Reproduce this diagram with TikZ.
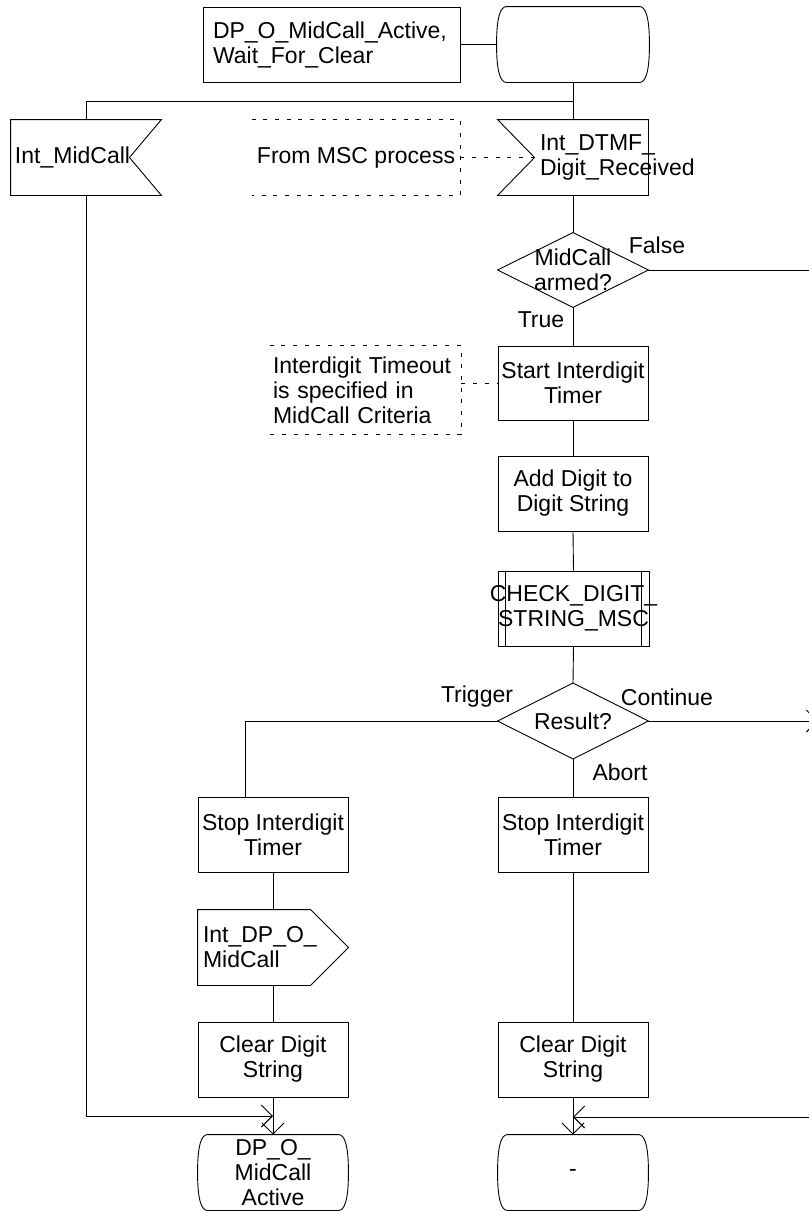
\documentclass[tikz,border=0pt]{standalone}
\usepackage{fontspec}
\setmainfont{Liberation Sans}
\usetikzlibrary{arrows.meta}

% outlines of the SDL symbols, drawn round a plain node
\newcommand{\sdlstate}[1]{%
  \draw ([xshift=10pt]#1.north west) -- ([xshift=-10pt]#1.north east)
    .. controls ([xshift=-4pt]#1.north east) and ([yshift=28pt]#1.east) .. (#1.east)
    .. controls ([yshift=-28pt]#1.east) and ([xshift=-4pt]#1.south east) .. ([xshift=-10pt]#1.south east)
    -- ([xshift=10pt]#1.south west)
    .. controls ([xshift=4pt]#1.south west) and ([yshift=-28pt]#1.west) .. (#1.west)
    .. controls ([yshift=28pt]#1.west) and ([xshift=4pt]#1.north west) .. cycle;}
\newcommand{\sdlinputright}[1]{%
  \draw (#1.north west) -- (#1.north east) -- ([xshift=-32pt]#1.east)
    -- (#1.south east) -- (#1.south west) -- cycle;}
\newcommand{\sdlinputleft}[1]{%
  \draw (#1.north west) -- ([xshift=37pt]#1.west) -- (#1.south west)
    -- (#1.south east) -- (#1.north east) -- cycle;}
\newcommand{\sdloutput}[1]{%
  \draw (#1.north west) -- ([xshift=-38pt]#1.north east) -- (#1.east)
    -- ([xshift=-38pt]#1.south east) -- (#1.south west) -- cycle;}
\newcommand{\sdldecision}[1]{%
  \draw (#1.north) -- (#1.east) -- (#1.south) -- (#1.west) -- cycle;}
\newcommand{\sdlcomment}[1]{%
  \draw[commentline] (#1.north west) -- (#1.north east) -- (#1.south east) -- (#1.south west);}
\newcommand{\sdlprocedure}[1]{%
  \draw ([xshift=8pt]#1.north west) -- ([xshift=8pt]#1.south west);
  \draw ([xshift=-8pt]#1.north east) -- ([xshift=-8pt]#1.south east);}

\begin{document}
\begin{tikzpicture}[
    x=1pt,y=-1pt,
    line width=0.9pt,
    every node/.style={font=\fontsize{23}{25}\selectfont,inner sep=0pt},
    sdlshape/.style={minimum width=150pt,minimum height=75pt,align=center},
    sdlbox/.style={sdlshape,draw},
    sdlleft/.style={minimum height=75pt,text width=140pt,inner xsep=5pt,align=left},
    sdlarrow/.style={-{Straight Barb[length=11pt,width=22pt]}},
    commentline/.style={dash pattern=on 4pt off 7.7pt}
    ]
    \useasboundingbox (0,0) rectangle (809,1211);
    \clip (0,0) rectangle (809,1211);

    % state header
    \node[draw,minimum height=75pt,text width=237pt,inner xsep=10pt,align=left] (wait) at (331.5,44.5)
      {DP\_O\_MidCall\_Active,\\Wait\_For\_Clear};
    \node[sdlshape,minimum width=152pt] (waitst) at (573,44.5) {};
    \sdlstate{waitst}
    \coordinate (fork) at (573,101);

    % inputs
    \node[sdlleft,text width=142pt,inner xsep=4pt] (intmid) at (86,157.5) {Int\_MidCall};
    \sdlinputright{intmid}
    \node[sdlshape] (dtmf) at (573,157.5) {};
    \sdlinputleft{dtmf}
    \node[anchor=west,align=left] (dtmftext) at ([xshift=42pt]dtmf.west) {Int\_DTMF\_\\Digit\_Received};
    \node[minimum width=208pt,minimum height=75pt] (msc) at (356,157.5) {From MSC process};
    \sdlcomment{msc}

    % right branch
    \node[sdlshape,minimum height=74pt] (armed) at (573,270) {MidCall\\armed?};
    \sdldecision{armed}
    \coordinate (falseend) at (809,270);
    \node[sdlbox,minimum height=74pt] (starttimer) at (573,383) {Start Interdigit\\Timer};
    \node[minimum height=88pt,text width=185pt,inner xsep=3pt,align=left] (timeoutnote) at (365.5,390)
      {Interdigit Timeout\\is specified in\\MidCall Criteria};
    \sdlcomment{timeoutnote}
    \node[sdlbox] (adddigit) at (573,493.5) {Add Digit to\\Digit String};
    \node[sdlbox,minimum width=151pt] (check) at (573.5,608.5)
      {\makebox[0pt]{CHECK\_DIGIT\_}\\\makebox[0pt]{STRING\_MSC}};
    \sdlprocedure{check}
    \node[sdlshape] (result) at (573,721) {Result?};
    \sdldecision{result}
    \coordinate (contend) at (818,721);
    \coordinate (trigdown) at (245,797);

    % trigger / abort columns
    \node[sdlbox] (stopL) at (273,834.5) {Stop Interdigit\\Timer};
    \node[sdlbox] (stopR) at (573,834.5) {Stop Interdigit\\Timer};
    \node[sdlleft] (outsig) at (273,947.5) {Int\_DP\_O\_\\MidCall};
    \sdloutput{outsig}
    \node[sdlbox] (clearL) at (273,1059.5) {Clear Digit\\String};
    \node[sdlbox] (clearR) at (573,1059.5) {Clear Digit\\String};
    \node[sdlshape] (endL) at (273,1172.5) {DP\_O\_\\MidCall\\Active};
    \sdlstate{endL}
    \node[sdlshape] (endR) at (573,1172.5) {-};
    \sdlstate{endR}
    \coordinate (mergeL) at (273,1116);
    \coordinate (mergeR) at (573,1117);
    \coordinate (rightin) at (812,1117);

    % labels
    \node (falselbl) at (657,245) {False};
    \node (truelbl) at (541,320) {True};
    \node (triglbl) at (477,697) {Trigger};
    \node (contlbl) at (667,697) {Continue};
    \node (abortlbl) at (620,772) {Abort};

    % connectors
    \draw (wait.east) -- (waitst.west);
    \draw (waitst.south) -- (dtmf.north);
    \draw (fork) -| (intmid.north);
    \draw[commentline] (msc.east) -- ([xshift=37pt]dtmf.west);
    \draw (dtmf.south) -- (armed.north);
    \draw (armed.east) -- (falseend);
    \draw (armed.south) -- (starttimer.north);
    \draw[commentline] (timeoutnote.east |- starttimer.west) -- (starttimer.west);
    \draw (starttimer.south) -- (adddigit.north);
    \draw (adddigit.south) -- (check.north);
    \draw (check.south) -- (result.north);
    \draw (result.west) -| (trigdown);
    \draw[sdlarrow] (result.east) -- (contend);
    \draw (result.south) -- (stopR.north);
    \draw (stopR.south) -- (clearR.north);
    \draw[sdlarrow] (clearR.south) -- (endR.north);
    \draw[sdlarrow] (rightin) -- (mergeR);
    \draw (stopL.south) -- (outsig.north);
    \draw (outsig.south) -- (clearL.north);
    \draw[sdlarrow] (clearL.south) -- (endL.north);
    \draw[sdlarrow] (intmid.south) |- (mergeL);
  \end{tikzpicture}
\end{document}
